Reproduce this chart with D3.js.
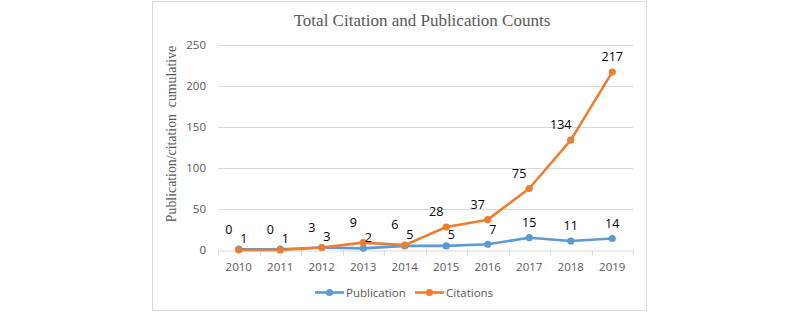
<!DOCTYPE html>
<html>
<head>
<meta charset="utf-8">
<script src="https://cdn.jsdelivr.net/npm/d3@7"></script>
<style>
  body { margin: 0; background: #fff; }
  svg { display: block; }
</style>
</head>
<body>
<svg id="chart" width="800" height="312"></svg>
<script>
const years = ["2010", "2011", "2012", "2013", "2014", "2015", "2016", "2017", "2018", "2019"];
const publication = [1, 1, 3, 2, 5, 5, 7, 15, 11, 14];
const citations = [0, 0, 3, 9, 6, 28, 37, 75, 134, 217];
const yTicks = [0, 50, 100, 150, 200, 250];

const blue = "#5b9bd5";
const orange = "#ed7d31";
const grey = "#595959";

const svg = d3.select("#chart");

// chart frame
svg.append("rect")
  .attr("x", 152.5).attr("y", 1.5)
  .attr("width", 494).attr("height", 309)
  .attr("fill", "#fff")
  .attr("stroke", "#d9d9d9");

const x = d3.scaleBand()
  .domain(years)
  .range([218, 633]);

const y = d3.scaleLinear()
  .domain([0, 250])
  .range([250, 45]);

// gridlines
svg.append("g")
  .selectAll("line")
  .data(yTicks.filter(d => d > 0))
  .join("line")
  .attr("x1", 218).attr("x2", 633)
  .attr("y1", d => Math.round(y(d)) + 0.5)
  .attr("y2", d => Math.round(y(d)) + 0.5)
  .attr("stroke", "#d9d9d9");

// y axis labels
svg.append("g")
  .selectAll("text")
  .data(yTicks)
  .join("text")
  .attr("x", 206)
  .attr("y", d => y(d))
  .attr("dy", "0.35em")
  .attr("text-anchor", "end")
  .attr("fill", grey)
  .style("font", "11.5px 'Open Sans', sans-serif")
  .text(d => d);

// x axis
const xAxis = svg.append("g")
  .attr("transform", `translate(0,${Math.round(y(0)) + 0.5})`)
  .call(d3.axisBottom(x).tickSize(0).tickPadding(12));
xAxis.select(".domain").attr("stroke", "#d9d9d9");
xAxis.selectAll("text")
  .attr("fill", grey)
  .style("font", "11.5px 'Open Sans', sans-serif");
// tick marks on band boundaries
xAxis.selectAll(".bnd")
  .data(d3.range(years.length + 1))
  .join("line")
  .attr("class", "bnd")
  .attr("x1", i => Math.round(218 + i * x.step()) + 0.5)
  .attr("x2", i => Math.round(218 + i * x.step()) + 0.5)
  .attr("y1", 0).attr("y2", 5)
  .attr("stroke", "#d9d9d9");

const cx = d => x(d) + x.bandwidth() / 2;

const line = d3.line()
  .x((d, i) => cx(years[i]))
  .y(d => y(d));

function drawSeries(values, color) {
  svg.append("path")
    .datum(values)
    .attr("d", line)
    .attr("fill", "none")
    .attr("stroke", color)
    .attr("stroke-width", 2.6)
    .attr("stroke-linejoin", "round");
  svg.append("g")
    .selectAll("circle")
    .data(values)
    .join("circle")
    .attr("cx", (d, i) => cx(years[i]))
    .attr("cy", d => y(d))
    .attr("r", 3.6)
    .attr("fill", color);
}

drawSeries(publication, blue);
drawSeries(citations, orange);

// data labels
const labelFont = "12.5px 'Open Sans', sans-serif";
svg.append("g")
  .selectAll("text")
  .data(citations)
  .join("text")
  .attr("x", (d, i) => cx(years[i]) - (i === 9 ? 0 : 10))
  .attr("y", (d, i) => y(d) - (i < 5 ? 20 : 15))
  .attr("dy", "0.35em")
  .attr("text-anchor", "middle")
  .attr("fill", "#000")
  .style("font", labelFont)
  .text(d => d);

svg.append("g")
  .selectAll("text")
  .data(publication)
  .join("text")
  .attr("x", (d, i) => cx(years[i]) + (i < 7 ? 5 : 0))
  .attr("y", (d, i) => y(d) - (i < 6 ? 11 : 15))
  .attr("dy", "0.35em")
  .attr("text-anchor", "middle")
  .attr("fill", "#000")
  .style("font", labelFont)
  .text(d => d);

// title
svg.append("text")
  .attr("x", 422).attr("y", 26)
  .attr("text-anchor", "middle")
  .attr("fill", grey)
  .style("font", "17px 'Liberation Serif', 'DejaVu Serif', serif")
  .text("Total Citation and Publication Counts");

// y axis title
svg.append("text")
  .attr("transform", "translate(176,134) rotate(-90)")
  .attr("text-anchor", "middle")
  .attr("fill", grey)
  .style("font", "13.8px 'Liberation Serif', 'DejaVu Serif', serif")
  .style("white-space", "pre")
  .text("Publication/citation  cumulative");

// legend
const legend = [
  { name: "Publication", color: blue, x: 315 },
  { name: "Citations", color: orange, x: 415 }
];
const lg = svg.append("g")
  .selectAll("g")
  .data(legend)
  .join("g")
  .attr("transform", d => `translate(${d.x},292.5)`);
lg.append("line")
  .attr("x1", 0).attr("x2", 29)
  .attr("stroke", d => d.color)
  .attr("stroke-width", 2.6);
lg.append("circle")
  .attr("cx", 14.5).attr("r", 3.6)
  .attr("fill", d => d.color);
lg.append("text")
  .attr("x", 31)
  .attr("dy", "0.35em")
  .attr("fill", grey)
  .style("font", "11.5px 'Open Sans', sans-serif")
  .text(d => d.name);
</script>
</body>
</html>
